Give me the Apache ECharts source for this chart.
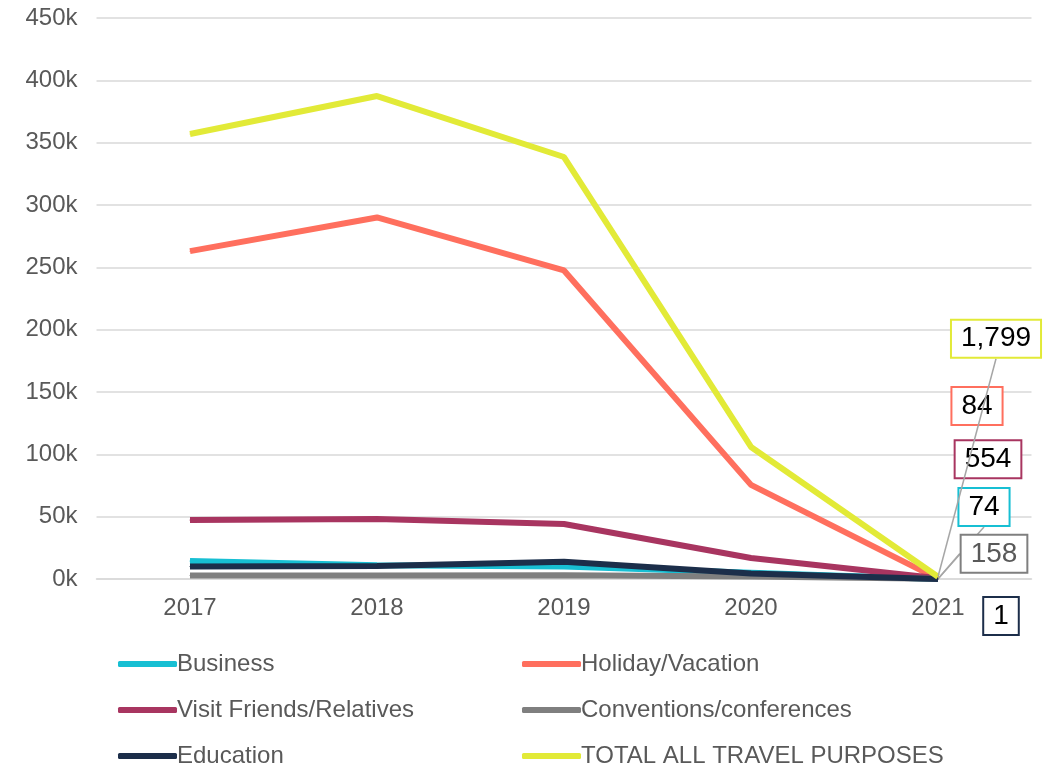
<!DOCTYPE html>
<html>
<head>
<meta charset="utf-8">
<script src="https://cdn.jsdelivr.net/npm/echarts@6/dist/echarts.min.js"></script>
<style>
  html, body { margin: 0; padding: 0; background: #fff; }
  #chart { width: 1053px; height: 770px; }
</style>
</head>
<body>
<div id="chart"></div>
<script>
// Visitors by travel purpose, 2017–2021
const years = ['2017', '2018', '2019', '2020', '2021'];
const business = [14500, 11000, 10000, 5000, 74];
const holiday = [263000, 290000, 247500, 75500, 84];
const visitFriends = [47300, 48100, 44100, 16800, 554];
const conventions = [2800, 2900, 3000, 2000, 158];
const education = [10000, 10500, 13800, 4500, 1];
const totalAll = [357000, 387400, 338500, 105900, 1799];

const seriesNames = ['Business', 'Holiday/Vacation', 'Visit Friends/Relatives',
  'Conventions/conferences', 'Education', 'TOTAL ALL TRAVEL PURPOSES'];
const seriesValues = [business, holiday, visitFriends, conventions, education, totalAll];
const seriesColors = ['#17bfd3', '#ff6f5e', '#a83560', '#7f7f7f', '#1c2e4a', '#e2ea37'];
// where the end-of-line value box sits, relative to the last point
const endLabelShift = [[46, -72], [39, -173], [50, -119], [56, -25], [63, 37], [58, -238]];
const endLabelLeader = [true, false, false, true, false, true];
const endLabelText = ['#000', '#000', '#000', '#595959', '#000', '#000'];

const fmt = v => v.toLocaleString('en-US');

const series = seriesNames.map((name, s) => {
  const vals = seriesValues[s];
  const last = vals.length - 1;
  return {
    name,
    type: 'line',
    data: vals.map((v, i) => i === last ? { value: v, label: { show: true } } : v),
    color: seriesColors[s],
    lineStyle: { width: 6, color: seriesColors[s] },
    symbol: 'circle',
    symbolSize: 1,
    showSymbol: true,
    itemStyle: { color: seriesColors[s] },
    label: {
      show: false,
      position: 'inside',
      formatter: p => fmt(p.value),
      fontFamily: 'Liberation Sans, Arial, sans-serif',
      fontSize: 28,
      color: endLabelText[s],
      backgroundColor: '#fff',
      borderColor: seriesColors[s],
      borderWidth: 2,
      padding: [5, 9, 3, 9]
    },
    labelLayout: p => p.dataIndex === last
      ? { dx: endLabelShift[s][0], dy: endLabelShift[s][1] } : {},
    labelLine: {
      show: endLabelLeader[s],
      lineStyle: { color: '#a6a6a6', width: 1.5 }
    },
    emphasis: { disabled: true },
    z: 2 + s
  };
});

const legendText = {
  color: '#595959',
  fontFamily: 'Liberation Sans, Arial, sans-serif',
  fontSize: 24,
  lineHeight: 26,
  padding: [0, 0, 0, -5]
};
const legendBase = {
  orient: 'vertical',
  top: 651,
  padding: 0,
  icon: 'roundRect',
  itemWidth: 59,
  itemHeight: 6,
  itemGap: 20,
  textStyle: legendText,
  selectedMode: false
};

const chart = echarts.init(document.getElementById('chart'));
chart.setOption({
  animation: false,
  backgroundColor: '#fff',
  grid: { left: 96.5, right: 21.5, top: 18, bottom: 191, containLabel: false },
  legend: [
    Object.assign({}, legendBase, { left: 118, data: [seriesNames[0], seriesNames[2], seriesNames[4]] }),
    Object.assign({}, legendBase, { left: 522, data: [seriesNames[1], seriesNames[3], seriesNames[5]] })
  ],
  xAxis: {
    type: 'category',
    data: years,
    boundaryGap: true,
    axisLine: { show: true, lineStyle: { color: '#d9d9d9', width: 1.5 } },
    axisTick: { show: false },
    axisLabel: {
      color: '#595959',
      fontFamily: 'Liberation Sans, Arial, sans-serif',
      fontSize: 24,
      margin: 17
    }
  },
  yAxis: {
    type: 'value',
    min: 0,
    max: 450000,
    interval: 50000,
    axisLine: { show: false },
    axisTick: { show: false },
    splitLine: { lineStyle: { color: '#d9d9d9', width: 1.5 } },
    axisLabel: {
      color: '#595959',
      fontFamily: 'Liberation Sans, Arial, sans-serif',
      fontSize: 24,
      margin: 19,
      formatter: v => (v / 1000) + 'k'
    }
  },
  series
});
</script>
</body>
</html>
